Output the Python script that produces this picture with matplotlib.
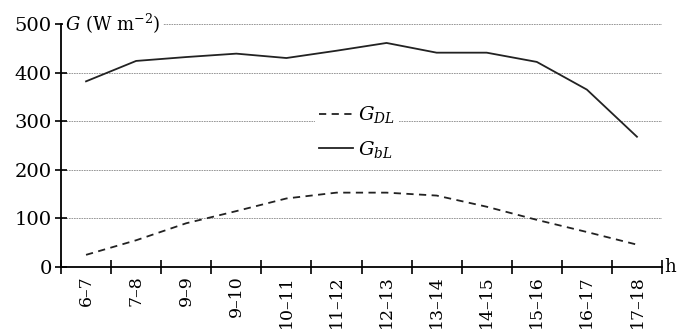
import numpy as np
import matplotlib.pyplot as plt

plt.rcParams['font.family'] = 'DejaVu Serif'
plt.rcParams['mathtext.fontset'] = 'dejavuserif'

hours = ["6–7", "7–8", "9–9", "9–10", "10–11", "11–12", "12–13",
         "13–14", "14–15", "15–16", "16–17", "17–18"]
g_bl = [382, 424, 432, 439, 430, 445, 461, 441, 441, 422, 365, 268]
g_dl = [25, 55, 90, 115, 141, 153, 153, 147, 124, 97, 72, 46]

fig = plt.figure(figsize=(6.77, 3.29), dpi=100)
ax = fig.add_axes([61 / 677, 1 - 267 / 329, 601 / 677, 243 / 329])

x = np.arange(len(hours))
for yv in [100, 200, 300, 400, 500]:
    ax.axhline(yv, color='#888888', lw=0.6, ls=(0, (2, 1)), zorder=1)

ax.plot(x, g_dl, color='#222222', lw=1.3, ls=(0, (4, 3)), label=r'$G_{DL}$', zorder=3)
ax.plot(x, g_bl, color='#222222', lw=1.3, label=r'$G_{bL}$', zorder=3)

ax.set_xlim(-0.5, len(hours) - 0.5)
ax.set_ylim(0, 500)
ax.set_yticks([0, 100, 200, 300, 400, 500])
ax.set_xticks(np.arange(-0.5, len(hours) - 0.4, 1))
ax.set_xticklabels([])
ax.set_xticks(x, minor=True)
ax.set_xticklabels(hours, minor=True, rotation=90, fontsize=12.5)
ax.tick_params(axis='x', which='minor', length=0, pad=6)
ax.tick_params(axis='x', which='major', direction='inout', length=10, width=1.2)
ax.tick_params(axis='y', direction='inout', length=9, width=1.2, labelsize=14, pad=2)

for s in ['top', 'right']:
    ax.spines[s].set_visible(False)
for s in ['left', 'bottom']:
    ax.spines[s].set_linewidth(1.3)

ax.text(0.007, 1.0, r'$G$ (W m$^{\mathregular{-2}}$)', fontsize=13,
        transform=ax.transAxes, va='center', ha='left', zorder=2,
        bbox=dict(facecolor='white', edgecolor='none', pad=1.5))
ax.text(1.003, 0, 'h', fontsize=13, transform=ax.transAxes, va='center', ha='left')

leg = ax.legend(loc='upper left', bbox_to_anchor=(0.406, 0.725), frameon=True,
                fontsize=14, handlelength=1.75, borderpad=0.2, labelspacing=0.7,
                handletextpad=0.3)
leg.get_frame().set_edgecolor('none')
leg.get_frame().set_facecolor('white')
leg.get_frame().set_alpha(1)

fig.savefig('out.png', dpi=100)
